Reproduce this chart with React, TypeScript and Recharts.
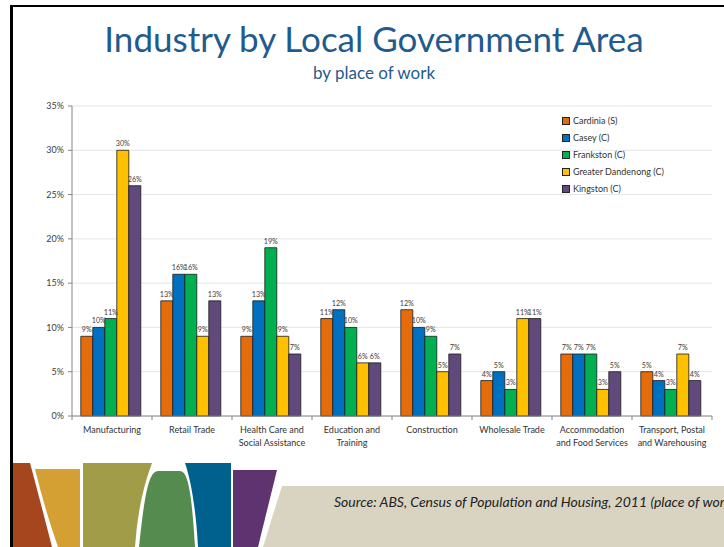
import React from "react"
import {
  BarChart,
  Bar,
  XAxis,
  YAxis,
  CartesianGrid,
  LabelList,
} from "recharts"

const categories = [
  "Manufacturing",
  "Retail Trade",
  "Health Care and\nSocial Assistance",
  "Education and\nTraining",
  "Construction",
  "Wholesale Trade",
  "Accommodation\nand Food Services",
  "Transport, Postal\nand Warehousing",
]

const cardinia = [9, 13, 9, 11, 12, 4, 7, 5]
const casey = [10, 16, 13, 12, 10, 5, 7, 4]
const frankston = [11, 16, 19, 10, 9, 3, 7, 3]
const dandenong = [30, 9, 9, 6, 5, 11, 3, 7]
const kingston = [26, 13, 7, 6, 7, 11, 5, 4]

const yTicks = [0, 5, 10, 15, 20, 25, 30, 35]

const series = [
  { key: "cardinia", name: "Cardinia (S)", color: "#E46C0A" },
  { key: "casey", name: "Casey (C)", color: "#0070C0" },
  { key: "frankston", name: "Frankston (C)", color: "#00B050" },
  { key: "dandenong", name: "Greater Dandenong (C)", color: "#FFC000" },
  { key: "kingston", name: "Kingston (C)", color: "#604A7B" },
]

const data = categories.map((name, i) => ({
  name,
  cardinia: cardinia[i],
  casey: casey[i],
  frankston: frankston[i],
  dandenong: dandenong[i],
  kingston: kingston[i],
}))

const FONT = "Lato, 'Liberation Sans', sans-serif"
const HALF_BAND = 40

// category label, split over two lines, plus the boundary tick marks
const CategoryTick = (props: any) => {
  const { x, y, payload, index } = props
  const lines = String(payload.value).split("\n")
  return (
    <g>
      {index === 0 && (
        <line x1={x - HALF_BAND} x2={x - HALF_BAND} y1={y} y2={y + 4} stroke="#868686" />
      )}
      <line x1={x + HALF_BAND} x2={x + HALF_BAND} y1={y} y2={y + 4} stroke="#868686" />
      <text x={x} y={y + 17} textAnchor="middle" fontSize={9} fill="#333" fontFamily={FONT}>
        {lines.map((l, i) => (
          <tspan key={i} x={x} dy={i === 0 ? 0 : 12.5}>
            {l}
          </tspan>
        ))}
      </text>
    </g>
  )
}

export default function App() {
  return (
    <div
      style={{
        position: "absolute",
        left: 0,
        top: 0,
        width: 724,
        height: 547,
        overflow: "hidden",
        background: "#fff",
        fontFamily: FONT,
      }}
    >
      {/* slide frame */}
      <div style={{ position: "absolute", left: 10, top: 5, width: 3, height: 542, background: "#000" }} />
      <div style={{ position: "absolute", left: 10, top: 5, width: 714, height: 2, background: "#000" }} />

      <div
        style={{
          position: "absolute",
          left: 0,
          width: 748,
          top: 16,
          textAlign: "center",
          color: "#1F5B8E",
          fontSize: 35,
          lineHeight: "44px",
        }}
      >
        Industry by Local Government Area
      </div>
      <div
        style={{
          position: "absolute",
          left: 0,
          width: 748,
          top: 62,
          textAlign: "center",
          color: "#1F5B8E",
          fontSize: 17,
          lineHeight: "22px",
        }}
      >
        by place of work
      </div>

      <div style={{ position: "absolute", left: 0, top: 0 }}>
        <BarChart
          width={724}
          height={460}
          data={data}
          margin={{ top: 106, right: 12, bottom: 0, left: 0 }}
          barCategoryGap="11%"
          barGap={0}
        >
          <CartesianGrid vertical={false} stroke="#e6e6e6" />
          <XAxis
            dataKey="name"
            height={44}
            tick={<CategoryTick />}
            tickLine={false}
            tickSize={0}
            tickMargin={0}
            interval={0}
            stroke="#868686"
          />
          <YAxis
            width={72}
            domain={[0, 35]}
            ticks={yTicks}
            tickFormatter={(v: number) => `${v}%`}
            tick={{ fontSize: 9, fill: "#404040", fontFamily: FONT }}
            tickSize={4}
            tickMargin={4}
            stroke="#868686"
          />
          {series.map((s) => (
            <Bar
              key={s.key}
              dataKey={s.key}
              name={s.name}
              fill={s.color}
              stroke="#1a1a1a"
              strokeWidth={0.8}
              isAnimationActive={false}
            >
              <LabelList
                dataKey={s.key}
                position="top"
                offset={4}
                formatter={(v: number) => `${v}%`}
                style={{ fontSize: 7.2, fill: "#404040", fontFamily: FONT }}
              />
            </Bar>
          ))}
        </BarChart>
      </div>

      {/* legend */}
      <div style={{ position: "absolute", left: 562, top: 112, fontSize: 9, color: "#333" }}>
        {series.map((s) => (
          <div key={s.key} style={{ display: "flex", alignItems: "center", height: 17 }}>
            <span
              style={{
                width: 6,
                height: 6,
                background: s.color,
                border: "1px solid #222",
                marginRight: 3,
              }}
            />
            {s.name}
          </div>
        ))}
      </div>

      {/* decorative footer band */}
      <svg width={724} height={547} style={{ position: "absolute", left: 0, top: 0, pointerEvents: "none" }}>
        <path d="M13,463 L30,463 Q40,500 52,547 L13,547 Z" fill="#A5461F" />
        <path d="M35,469 L80,469 L80,547 L58,547 Q45,510 35,469 Z" fill="#D4A033" />
        <path d="M83,463 L152,463 Q138,500 135,547 L83,547 Z" fill="#A09C48" />
        <path d="M139,547 C144,500 148,471 158,471 L180,471 C189,471 192,500 195,547 Z" fill="#558B4F" />
        <path d="M185,463 L231,463 L231,547 L198,547 C196,510 191,480 185,463 Z" fill="#00618F" />
        <path d="M233,470 L277,470 L258,547 L233,547 Z" fill="#5E3370" />
        <path d="M282,486 L724,486 L724,547 L263,547 Z" fill="#D9D3C1" />
        <text x={334} y={507} fontSize={14} fontStyle="italic" fill="#222" fontFamily={FONT}>
          Source:  ABS, Census of Population and Housing, 2011 (place of work)
        </text>
      </svg>
    </div>
  )
}
